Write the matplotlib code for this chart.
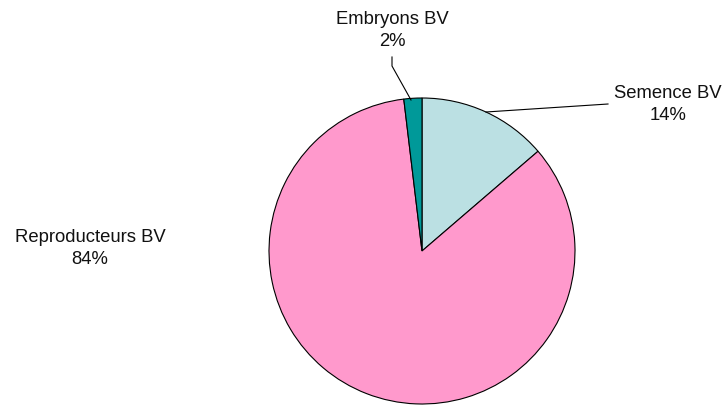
import matplotlib
matplotlib.use("Agg")
import matplotlib.pyplot as plt

categories = ["Semence BV", "Reproducteurs BV", "Embryons BV"]
values = [13.7, 84.4, 1.9]
pct_labels = ["14%", "84%", "2%"]
colors = ["#BBE0E3", "#FF99CC", "#009999"]

plt.rcParams['font.family'] = ['Liberation Sans', 'DejaVu Sans']

W, H = 727, 405
fig = plt.figure(figsize=(W/100, H/100), dpi=100)
ax = fig.add_axes([0, 0, 1, 1])

cx, cy, r = 422, H - 251, 153
ax.pie(values, colors=colors, startangle=90, counterclock=False,
       center=(cx, cy), radius=r, frame=True,
       wedgeprops=dict(edgecolor='black', linewidth=0.8))
ax.set_xlim(0, W)
ax.set_ylim(0, H)
ax.axis('off')

fs = 13.3
# label positions (pixel coords, y from top)
pos = {
    "Semence BV": (668, 93, 116),
    "Reproducteurs BV": (90, 238, 259),
    "Embryons BV": (392, 20, 42),
}
for cat, p in zip(categories, pct_labels):
    x, y1, y2 = pos[cat]
    ax.text(x, H - y1, cat, ha='center', va='center', fontsize=fs, color='#111111')
    ax.text(x, H - y2, p, ha='center', va='center', fontsize=fs, color='#111111')

# leader lines
ax.plot([392, 392, 411], [H - 57, H - 66, H - 100], color='black', lw=0.8)
ax.plot([486, 608], [H - 112, H - 104], color='black', lw=0.8)

fig.savefig("out.png", dpi=100)
